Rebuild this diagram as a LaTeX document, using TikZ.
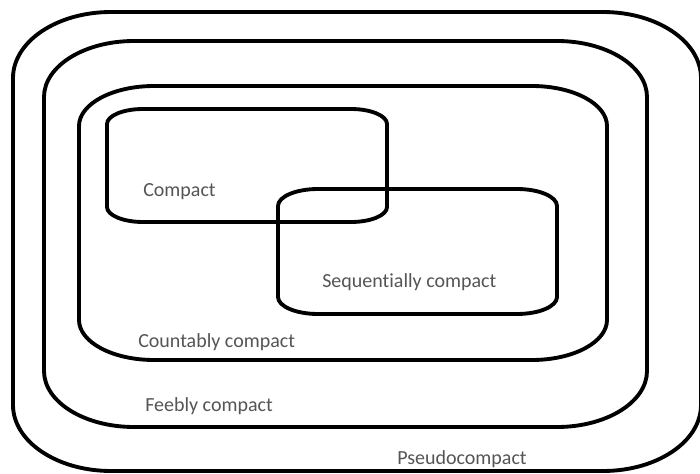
\documentclass[tikz,border=0pt]{standalone}
\usepackage{fontspec}
\setmainfont{Carlito}[Ligatures={NoCommon}]
\definecolor{labelgray}{HTML}{555555}
\newcommand\myrrect[6]{% left top right bottom rx ry (pixel coords, y down)
\draw[setline] (#1+#5,#2) -- (#3-#5,#2)
 .. controls (#3-0.4477*#5,#2) and (#3,#2+0.4477*#6) .. (#3,#2+#6)
 -- (#3,#4-#6)
 .. controls (#3,#4-0.4477*#6) and (#3-0.4477*#5,#4) .. (#3-#5,#4)
 -- (#1+#5,#4)
 .. controls (#1+0.4477*#5,#4) and (#1,#4-0.4477*#6) .. (#1,#4-#6)
 -- (#1,#2+#6)
 .. controls (#1,#2+0.4477*#6) and (#1+0.4477*#5,#2) .. cycle;}
\begin{document}
\begin{tikzpicture}[x=0.75pt,y=-0.75pt,
  setline/.style={line width=2.9pt,black},
  setlabel/.style={anchor=base west,inner sep=0pt,text=labelgray,font=\fontsize{15pt}{18pt}\selectfont}]
\fill[white] (0,0) rectangle (700,474);
\useasboundingbox (0,0) rectangle (700,474);
\begin{scope}
\clip (0,0) rectangle (700,474);
\myrrect{13}{12}{701}{471}{98}{66}
\myrrect{44}{41}{647}{427}{90}{56}
\myrrect{79}{86}{607}{360}{75}{40}
\myrrect{107}{109}{387}{222}{36}{15}
\myrrect{278}{189}{557}{314}{40}{17}
\end{scope}
\node[setlabel] (compact) at (143,197) {Compact};
\node[setlabel] (seq) at (322,287) {Sequentially compact};
\node[setlabel] (countably) at (138,347) {Countably compact};
\node[setlabel] (feebly) at (145,411) {Feebly compact};
\node[setlabel] (pseudo) at (397,464) {Pseudocompact};
\end{tikzpicture}
\end{document}
